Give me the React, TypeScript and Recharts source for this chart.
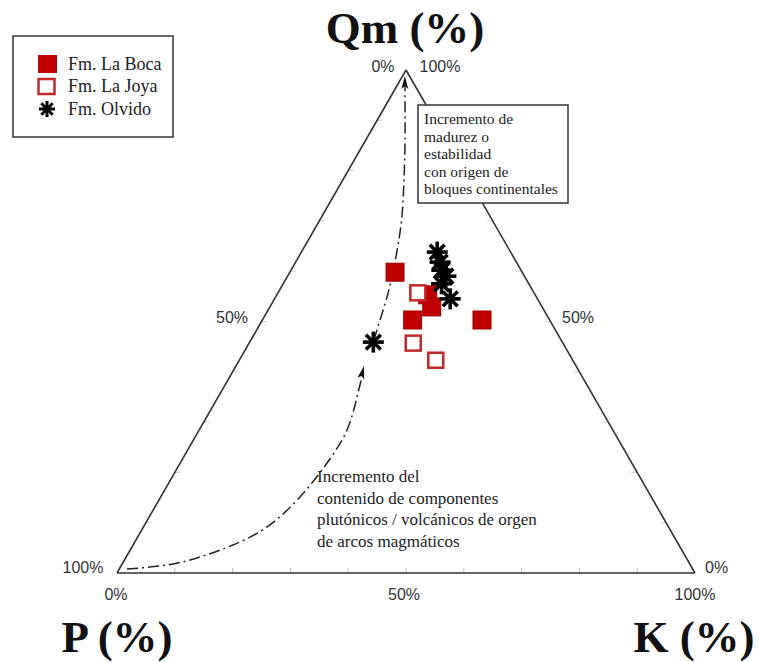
import React from 'react';
import { ScatterChart, Scatter, XAxis, YAxis, ReferenceLine } from 'recharts';

// Ternary data (percent). P = 100 - Qm - K
const laBocaQm = [59.8, 55.3, 52.9, 50.3, 50.3];
const laBocaK = [18.2, 26.1, 28.0, 26.0, 38.0];
const laJoyaQm = [55.7, 45.7, 42.3];
const laJoyaK = [24.2, 28.4, 34.0];
const olvidoQm = [63.8, 61.8, 60.2, 59.0, 57.5, 54.5, 45.9];
const olvidoK = [23.5, 25.0, 26.1, 27.4, 27.4, 30.4, 21.4];

// Guide curves (in ternary percent: Qm, K)
const lowerQm = [0.8, 1.59, 3.18, 5.57, 9.15, 15.11, 21.87, 28.43, 34.99, 39.76];
const lowerK = [1.33, 7.86, 12.77, 17.29, 21.38, 24.1, 25.4, 25.58, 24.03, 22.68];
const upperQm = [46.32, 50.3, 54.87, 59.84, 65.21, 71.17, 78.13, 86.08, 94.04, 97.2];
const upperK = [21.3, 20.35, 19.28, 17.83, 16.02, 13.73, 10.59, 6.79, 2.81, 1.23];

const tickSteps = [10, 20, 30, 40, 50, 60, 70, 80, 90];

const toXY = (qm: number, k: number) => ({ x: k + qm / 2, y: qm });
const build = (qm: number[], k: number[]) => qm.map((q, i) => toXY(q, k[i]));

const laBoca = build(laBocaQm, laBocaK);
const laJoya = build(laJoyaQm, laJoyaK);
const olvido = build(olvidoQm, olvidoK);
const lowerCurve = build(lowerQm, lowerK);
const upperCurve = build(upperQm, upperK);
const upperArrow = [toXY(98.8, 0.4)];
const lowerArrow = [toXY(41.15, 22.15)];

const RED = '#c00000';

const FilledSquare = (props: any) => {
  const { cx, cy } = props;
  const s = 18;
  return <rect x={cx - s / 2} y={cy - s / 2} width={s} height={s} fill={RED} stroke="#a00000" strokeWidth={1} />;
};
const OpenSquare = (props: any) => {
  const { cx, cy } = props;
  const s = 15;
  return <rect x={cx - s / 2} y={cy - s / 2} width={s} height={s} fill="#fff" stroke="#c0282a" strokeWidth={2.5} />;
};
const Asterisk = (props: any) => {
  const { cx, cy } = props;
  const r = 10.5;
  const d = r * 0.7071;
  return (
    <g stroke="#000" strokeWidth={3.6} strokeLinecap="butt">
      <line x1={cx - r} y1={cy} x2={cx + r} y2={cy} />
      <line x1={cx} y1={cy - r} x2={cx} y2={cy + r} />
      <line x1={cx - d} y1={cy - d} x2={cx + d} y2={cy + d} />
      <line x1={cx - d} y1={cy + d} x2={cx + d} y2={cy - d} />
    </g>
  );
};
const makeArrow = (angle: number) => (props: any) => {
  const { cx, cy } = props;
  return (
    <polygon
      points={`${cx},${cy} ${cx - 3.5},${cy + 13} ${cx},${cy + 10} ${cx + 3.5},${cy + 13}`}
      fill="#111"
      transform={`rotate(${angle} ${cx} ${cy})`}
    />
  );
};
const NoShape = () => <g />;

const serif = '"Liberation Serif", "Times New Roman", serif';
const sans = '"Liberation Sans", Arial, sans-serif';

export default function App() {
  const triColor = '#333';
  return (
    <div style={{ position: 'absolute', left: 0, top: 0, width: 759, height: 662, background: '#fff' }}>
      <ScatterChart width={759} height={662} margin={{ top: 70, right: 64, bottom: 89, left: 117 }}>
        <XAxis type="number" dataKey="x" domain={[0, 100]} hide />
        <YAxis type="number" dataKey="y" domain={[0, 100]} hide />
        {tickSteps.map((t) => (
          <ReferenceLine key={'b' + t} segment={[{ x: t, y: 0 }, { x: t, y: 1 }]} stroke="#bbb" strokeWidth={1} ifOverflow="visible" />
        ))}
        {tickSteps.map((t) => (
          <ReferenceLine key={'l' + t} segment={[{ x: t / 2, y: t }, { x: t / 2 + 1, y: t }]} stroke="#ccc" strokeWidth={1} ifOverflow="visible" />
        ))}
        {tickSteps.map((t) => (
          <ReferenceLine key={'r' + t} segment={[{ x: 100 - t / 2, y: t }, { x: 99 - t / 2, y: t }]} stroke="#ccc" strokeWidth={1} ifOverflow="visible" />
        ))}
        <ReferenceLine segment={[{ x: 0, y: 0 }, { x: 50, y: 100 }]} stroke={triColor} strokeWidth={1.6} ifOverflow="visible" />
        <ReferenceLine segment={[{ x: 50, y: 100 }, { x: 100, y: 0 }]} stroke={triColor} strokeWidth={1.6} ifOverflow="visible" />
        <ReferenceLine segment={[{ x: 0, y: 0 }, { x: 100, y: 0 }]} stroke={triColor} strokeWidth={1.6} ifOverflow="visible" />
        <Scatter
          data={lowerCurve}
          line={{ stroke: '#222', strokeWidth: 1.5, strokeDasharray: '11 4 2 4' }}
          lineJointType="natural"
          shape={NoShape}
          isAnimationActive={false}
          legendType="none"
        />
        <Scatter
          data={upperCurve}
          line={{ stroke: '#222', strokeWidth: 1.5, strokeDasharray: '11 4 2 4' }}
          lineJointType="natural"
          shape={NoShape}
          isAnimationActive={false}
          legendType="none"
        />
        <Scatter data={upperArrow} shape={makeArrow(0)} isAnimationActive={false} legendType="none" />
        <Scatter data={lowerArrow} shape={makeArrow(14)} isAnimationActive={false} legendType="none" />
        <Scatter name="Fm. La Boca" data={laBoca} shape={FilledSquare} isAnimationActive={false} />
        <Scatter name="Fm. La Joya" data={laJoya} shape={OpenSquare} isAnimationActive={false} />
        <Scatter name="Fm. Olvido" data={olvido} shape={Asterisk} isAnimationActive={false} />
      </ScatterChart>
      <svg width={759} height={662} style={{ position: 'absolute', left: 0, top: 0, pointerEvents: 'none' }}>
        {/* Titles */}
        <g fontFamily={serif} fontWeight="bold" fontSize={45} fill="#111" textAnchor="middle">
          <text x={405} y={43}>Qm (%)</text>
          <text x={117} y={652}>P (%)</text>
          <text x={694} y={652}>K (%)</text>
        </g>
        {/* Percent labels */}
        <g fontFamily={sans} fontSize={16} fill="#333">
          <text x={383} y={72} textAnchor="middle">0%</text>
          <text x={440} y={72} textAnchor="middle">100%</text>
          <text x={83} y={573} textAnchor="middle">100%</text>
          <text x={116} y={600} textAnchor="middle">0%</text>
          <text x={404} y={600} textAnchor="middle">50%</text>
          <text x={705} y={573}>0%</text>
          <text x={695} y={600} textAnchor="middle">100%</text>
          <text x={232} y={323} textAnchor="middle">50%</text>
          <text x={578} y={323} textAnchor="middle">50%</text>
        </g>
        {/* Legend */}
        <rect x={13} y={36} width={160} height={101} fill="#fff" stroke="#333" strokeWidth={1.5} />
        <rect x={38} y={55} width={19} height={18} fill={RED} />
        <rect x={38.5} y={79} width={16} height={15} fill="#fff" stroke="#c0282a" strokeWidth={2.5} />
        <g stroke="#000" strokeWidth={3}>
          <line x1={39} y1={109} x2={55} y2={109} />
          <line x1={47} y1={101} x2={47} y2={117} />
          <line x1={41.3} y1={103.3} x2={52.7} y2={114.7} />
          <line x1={41.3} y1={114.7} x2={52.7} y2={103.3} />
        </g>
        <g fontFamily={serif} fontSize={18} fill="#222">
          <text x={68} y={70}>Fm. La Boca</text>
          <text x={68} y={92}>Fm. La Joya</text>
          <text x={68} y={115}>Fm. Olvido</text>
        </g>
        {/* Upper annotation */}
        <rect x={418} y={105} width={150} height={98} fill="#fff" stroke="#333" strokeWidth={1.5} />
        <g fontFamily={serif} fontSize={15.5} fill="#222">
          <text x={424} y={124}>Incremento de</text>
          <text x={424} y={141.5}>madurez o</text>
          <text x={424} y={159}>estabilidad</text>
          <text x={424} y={176.5}>con origen de</text>
          <text x={424} y={194}>bloques continentales</text>
        </g>
        {/* Lower annotation */}
        <g fontFamily={serif} fontSize={17} fill="#222">
          <text x={317} y={482}>Incremento del</text>
          <text x={317} y={503.5}>contenido de componentes</text>
          <text x={317} y={525}>plutónicos / volcánicos de orgen</text>
          <text x={317} y={546.5}>de arcos magmáticos</text>
        </g>
      </svg>
    </div>
  );
}
